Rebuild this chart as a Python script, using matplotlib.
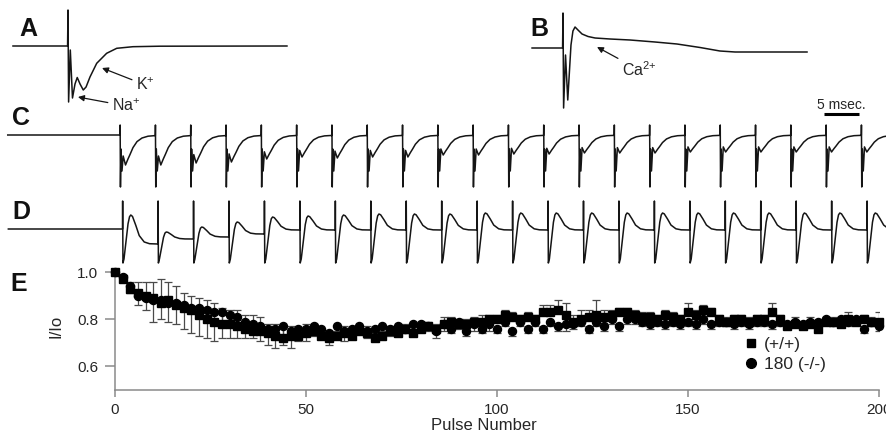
import numpy as np
import matplotlib
matplotlib.use("Agg")
import matplotlib.pyplot as plt
from matplotlib.lines import Line2D

plt.rcParams['font.family'] = ['Liberation Sans', 'DejaVu Sans']
plt.rcParams['mathtext.fontset'] = 'custom'
plt.rcParams['mathtext.rm'] = 'Liberation Sans'

W, H = 886, 437
TRACE = '#151515'
TXT = '#262626'

# ---------------- DATA ----------------
# Panel A: single sweep (time in ms, current in a.u.)
A_time_ms = [-3.93, -0.03, 0.0, 0.043, 0.164, 0.32, 0.50, 0.66, 0.86, 1.09, 1.29,
             1.57, 2.05, 2.76, 3.48, 4.64, 6.57, 15.64]
A_current = [0, 0, 36, -56, -4, -52, -38, -31.5, -38, -44, -41,
             -31, -17.3, -7.3, -2.3, -0.7, -0.2, 0]

# Panel B: single sweep (time in ms, current in a.u.)
B_time_ms = [-2.21, -0.03, 0.0, 0.043, 0.18, 0.34, 0.57, 0.71, 0.86, 1.07, 1.36,
             1.79, 2.29, 3.36, 4.79, 6.57, 8.14, 9.79, 11.21, 12.29, 17.43]
B_current = [0, 0, 35, -60, -7, -52, 3, 17, 21, 18, 14,
             11.5, 10, 9, 8, 6, 4, 0.5, -3, -4, -4]

# Pulse trains C and D (22 pulses, 5 ms apart)
pulse_onsets_ms = [0, 5, 10, 15, 20, 25, 30, 35, 40, 45, 50,
                   55, 60, 65, 70, 75, 80, 85, 90, 95, 100, 105]
# C: per-sweep sample times after each pulse onset (ms)
sweep_t_ms = [0, 0.02, 0.064, 0.14, 0.28, 0.45, 0.78, 1.13, 1.42, 1.84, 2.41, 3.12, 3.97, 5.0]
# C: fixed artifact/Na part and K-current shape (fraction of K peak)
C_fixed = [0, 10, -52, -14, -36, 0, 0, 0, 0, 0, 0, 0, 0, 0]
C_kshape = [0, 0, 0, 0, 0, 0.7, 1.0, 0.8, 0.65, 0.42, 0.22, 0.10, 0.04, 0.02]
C_k_peak = [-30, -30, -28, -27, -24, -22, -23, -22, -22, -20, -20,
            -19, -19, -18, -18, -18, -17, -17, -17, -17, -17, -17]

# D: Ca-current peak and settling level per pulse
D_times_ms = [0, 0.021, 0.063, 0.21, 0.49, 0.78, 0.99, 1.17, 1.41, 1.88, 2.36, 3.06, 3.81, 5.0]
D_artifact = [28, -34, -30]        # artifact up, artifact down, Na dip
D_rise = [0.4, 0.8, 0.96, 1.0]     # fraction from dip to peak
D_decay = [0.95, 0.64, 0.29, 0.07, 0.01, 0.0]  # fraction of (peak - settle)
D_peak = [14, -3, 2, 7, 12, 13, 14, 15, 15, 15, 16,
          16, 16, 16, 16, 16, 16, 16, 16, 16, 16, 16]
D_settle = [-15, -10, -8, -5, -1, -1, -1, -1, -1, -1, -1,
            -1, -1, -1, -1, -1, -1, -1, -1, -1, -1, -1]

# Panel E
pulse_number = list(range(0, 201, 2))
wt_mean = [1.00, 0.97, 0.93, 0.91, 0.90, 0.89, 0.87, 0.88, 0.86, 0.85, 0.84,
           0.82, 0.80, 0.79, 0.78, 0.78, 0.77, 0.76, 0.75, 0.75, 0.74,
           0.73, 0.72, 0.73, 0.73, 0.74, 0.75, 0.73, 0.72, 0.73, 0.74,
           0.73, 0.75, 0.74, 0.72, 0.73, 0.75, 0.74, 0.76, 0.74, 0.76,
           0.77, 0.76, 0.78, 0.79, 0.78, 0.78, 0.79, 0.79, 0.80, 0.80,
           0.82, 0.81, 0.80, 0.81, 0.80, 0.83, 0.83, 0.84, 0.82, 0.79,
           0.80, 0.81, 0.82, 0.81, 0.82, 0.83, 0.83, 0.82, 0.81, 0.81,
           0.80, 0.82, 0.81, 0.80, 0.83, 0.82, 0.84, 0.83, 0.80, 0.79,
           0.80, 0.80, 0.79, 0.80, 0.80, 0.83, 0.80, 0.77, 0.78, 0.77,
           0.78, 0.76, 0.79, 0.79, 0.78, 0.80, 0.79, 0.80, 0.79, 0.79]
wt_sem = [0.00, 0.02, 0.03, 0.05, 0.06, 0.07, 0.10, 0.08, 0.08, 0.06, 0.06,
          0.07, 0.08, 0.08, 0.07, 0.06, 0.07, 0.06, 0.07, 0.06, 0.04,
          0.05, 0.05, 0.04, 0.03, 0.04, 0.03, 0.03, 0.03, 0.02, 0.03,
          0.02, 0.02, 0.03, 0.02, 0.02, 0.02, 0.02, 0.02, 0.03, 0.02,
          0.02, 0.02, 0.03, 0.02, 0.02, 0.02, 0.02, 0.03, 0.02, 0.02,
          0.02, 0.02, 0.02, 0.02, 0.02, 0.03, 0.03, 0.04, 0.05, 0.03,
          0.04, 0.03, 0.06, 0.03, 0.02, 0.02, 0.02, 0.02, 0.02, 0.02,
          0.02, 0.02, 0.02, 0.02, 0.04, 0.02, 0.02, 0.02, 0.02, 0.02,
          0.02, 0.02, 0.02, 0.02, 0.02, 0.04, 0.02, 0.02, 0.03, 0.02,
          0.03, 0.03, 0.02, 0.02, 0.03, 0.03, 0.02, 0.02, 0.02, 0.04]
ko_mean = [1.00, 0.98, 0.94, 0.90, 0.89, 0.88, 0.88, 0.87, 0.87, 0.86, 0.85,
           0.85, 0.84, 0.83, 0.83, 0.82, 0.81, 0.79, 0.78, 0.77, 0.76,
           0.76, 0.77, 0.75, 0.76, 0.76, 0.77, 0.76, 0.74, 0.77, 0.75,
           0.76, 0.77, 0.75, 0.76, 0.77, 0.76, 0.77, 0.76, 0.78, 0.78,
           0.77, 0.75, 0.78, 0.76, 0.79, 0.75, 0.78, 0.76, 0.78, 0.76,
           0.79, 0.75, 0.79, 0.76, 0.79, 0.76, 0.79, 0.77, 0.78, 0.78,
           0.79, 0.76, 0.79, 0.77, 0.80, 0.77, 0.80, 0.80, 0.79, 0.78,
           0.79, 0.78, 0.79, 0.78, 0.79, 0.78, 0.80, 0.78, 0.79, 0.79,
           0.78, 0.79, 0.78, 0.79, 0.79, 0.78, 0.79, 0.78, 0.79, 0.78,
           0.79, 0.79, 0.80, 0.79, 0.80, 0.79, 0.80, 0.76, 0.79, 0.77]
ko_sem = [0.00, 0.01, 0.03, 0.04, 0.05, 0.09, 0.08, 0.08, 0.09, 0.10, 0.11,
          0.12, 0.12, 0.12, 0.11, 0.10, 0.09, 0.07, 0.06, 0.06, 0.07,
          0.08, 0.08, 0.07, 0.05, 0.05, 0.04, 0.04, 0.05, 0.04, 0.04,
          0.03, 0.02, 0.03, 0.03, 0.02, 0.03, 0.02, 0.02, 0.02, 0.02,
          0.02, 0.03, 0.03, 0.02, 0.03, 0.02, 0.03, 0.02, 0.03, 0.02,
          0.02, 0.02, 0.02, 0.02, 0.02, 0.02, 0.02, 0.02, 0.03, 0.02,
          0.02, 0.02, 0.02, 0.02, 0.02, 0.02, 0.02, 0.02, 0.02, 0.02,
          0.02, 0.02, 0.02, 0.02, 0.02, 0.02, 0.02, 0.02, 0.02, 0.02,
          0.02, 0.02, 0.02, 0.02, 0.02, 0.02, 0.02, 0.02, 0.02, 0.02,
          0.02, 0.02, 0.02, 0.02, 0.02, 0.02, 0.02, 0.02, 0.02, 0.02]

legend_labels = ['(+/+)', '180 (-/-)']
panel_letters = ['A', 'B', 'C', 'D', 'E']

# ---------------- FIGURE ----------------
fig = plt.figure(figsize=(W / 100, H / 100), dpi=100)


def overlay_axes(x0_px, px_per_ms, y0_px, px_per_unit):
    ax = fig.add_axes([0, 0, 1, 1])
    ax.set_xlim((0 - x0_px) / px_per_ms, (W - x0_px) / px_per_ms)
    ax.set_ylim((y0_px - H) / px_per_unit, y0_px / px_per_unit)
    ax.axis('off')
    ax.patch.set_alpha(0)
    return ax


# ---- Panel E (plot) ----
axE = fig.add_axes([115 / W, 1 - 390 / H, 764 / W, (390 - 271) / H])
axE.set_xlim(0, 200)
axE.set_ylim(0.5, 1.005)
x = np.array(pulse_number)
wt = np.array(wt_mean); ko = np.array(ko_mean)
wt_e = np.array(wt_sem); ko_e = np.array(ko_sem)
zero = np.zeros_like(wt_e)
ebk = dict(fmt='none', ecolor='#4a4a4a', elinewidth=0.9, capsize=3.2, capthick=0.9)
axE.errorbar(x, wt, yerr=[zero, wt_e], **ebk)
axE.errorbar(x, ko, yerr=[ko_e, zero], **ebk)
axE.plot(x, wt, ls='none', marker='s', ms=5.4, color='black', clip_on=False, zorder=3)
axE.plot(x, ko, ls='none', marker='o', ms=5.8, color='black', clip_on=False, zorder=3)
for s in ['top', 'right']:
    axE.spines[s].set_visible(False)
for s in ['left', 'bottom']:
    axE.spines[s].set_color('#8a8a8a')
    axE.spines[s].set_linewidth(1.1)
axE.set_xticks([0, 50, 100, 150, 200])
axE.set_xticklabels(['0', '50', '100', '150', '200'])
axE.set_yticks([0.6, 0.8, 1.0])
axE.set_yticklabels(['0.6', '0.8', '1.0'])
axE.tick_params(axis='y', length=7, width=1.1, color='#8a8a8a', pad=5,
                labelsize=11, labelcolor=TXT)
axE.tick_params(axis='x', length=5, width=1.1, color='#8a8a8a', pad=4,
                labelsize=11, labelcolor=TXT)
fig.text(483.5 / W, 1 - 426 / H, 'Pulse Number', ha='center', va='center',
         fontsize=12, color=TXT)
fig.text(55.5 / W, 1 - 326 / H, 'I/Io', ha='center', va='center',
         rotation=90, fontsize=12, color=TXT)
handles = [Line2D([], [], ls='none', marker='s', ms=6, color='black'),
           Line2D([], [], ls='none', marker='o', ms=7, color='black')]
fig.legend(handles, legend_labels, loc='upper left',
           bbox_to_anchor=(744 / W, 1 - 337 / H), bbox_transform=fig.transFigure,
           frameon=False, fontsize=12.5, handlelength=0.8, handletextpad=0.35,
           borderpad=0, borderaxespad=0, labelspacing=0.25, labelcolor=TXT)

# ---- Panel A ----
axA = overlay_axes(68, 14.0, 46, 1.0)
axA.plot(A_time_ms, A_current, color=TRACE, lw=1.1)
arrow = dict(arrowstyle='-|>', color=TRACE, lw=0.9, mutation_scale=9,
             shrinkA=1, shrinkB=0)
axA.annotate(r'K$^{\mathregular{+}}$', xy=(2.43, -22), xytext=(4.86, -39),
             ha='left', va='center', fontsize=11.5, color=TXT, arrowprops=arrow)
axA.annotate(r'Na$^{\mathregular{+}}$', xy=(0.71, -51), xytext=(3.14, -60),
             ha='left', va='center', fontsize=11.5, color=TXT, arrowprops=arrow)

# ---- Panel B ----
axB = overlay_axes(563, 14.0, 48, 1.0)
axB.plot(B_time_ms, B_current, color=TRACE, lw=1.1)
axB.annotate(r'Ca$^{\mathregular{2{+}}}$', xy=(2.43, 1), xytext=(4.21, -22),
             ha='left', va='center', fontsize=11.5, color=TXT, arrowprops=arrow)

# ---- Panel C ----
axC = overlay_axes(120, 7.06, 135, 1.0)
tC = [-15.9]
iC = [0.0]
for k, onset in enumerate(pulse_onsets_ms):
    for j, dt in enumerate(sweep_t_ms):
        if j == 0:
            tC.append(onset)
            iC.append(iC[-1])
            continue
        tC.append(onset + dt)
        iC.append(C_fixed[j] + C_kshape[j] * C_k_peak[k])
axC.plot(tC, iC, color=TRACE, lw=1.1)
# scale bar 5 ms
axC.plot([99.7, 104.7], [21, 21], color='black', lw=2.2, solid_capstyle='butt')
axC.text(102.2, 30, '5 msec.', ha='center', va='center', fontsize=10, color=TXT)

# ---- Panel D ----
axD = overlay_axes(122.5, 7.09, 229, 1.0)
tD = [-16.1]
iD = [0.0]
for k, onset in enumerate(pulse_onsets_ms):
    P = D_peak[k]; S = D_settle[k]; L = iD[-1]
    up, down, dip = D_artifact
    vals = [L, up, down, dip]
    vals += [dip + r * (P - dip) for r in D_rise]
    vals += [S + f * (P - S) for f in D_decay]
    for dt, v in zip(D_times_ms, vals):
        tD.append(onset + dt)
        iD.append(v)
axD.plot(tD, iD, color=TRACE, lw=1.1)

# ---- Panel letters ----
letter_pos = [(28.5, 29), (539, 29), (21, 118), (21, 212), (18.5, 284)]
for letter, (px, py) in zip(panel_letters, letter_pos):
    fig.text(px / W, 1 - py / H, letter, ha='center', va='center',
             fontsize=18, fontweight='bold', color='#111111')

fig.savefig('out.png', dpi=100)
